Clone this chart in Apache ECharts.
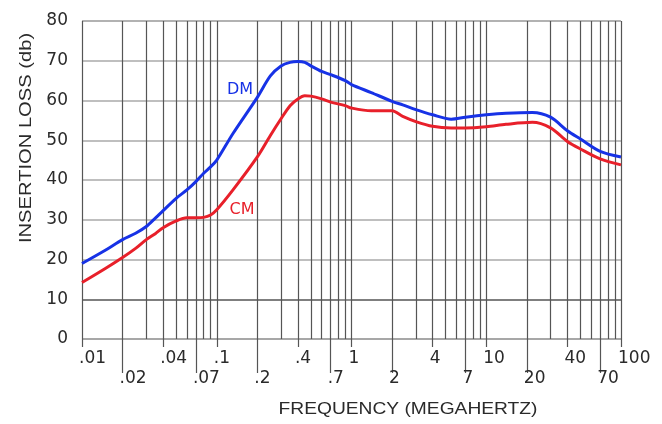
<!DOCTYPE html>
<html>
<head>
<meta charset="utf-8">
<script src="https://cdn.jsdelivr.net/npm/echarts@6/dist/echarts.min.js"></script>
<style>
html,body{margin:0;padding:0;background:#fff;}
#chart{width:662px;height:424px;}
</style>
</head>
<body>
<div id="chart"></div>
<script>
// ---- data (frequency in MHz, insertion loss in dB) ----
var freqs = [0.01, 0.015, 0.02, 0.025, 0.03, 0.035, 0.04, 0.05, 0.06, 0.07, 0.08, 0.09, 0.1, 0.132, 0.2, 0.25, 0.3, 0.35, 0.4, 0.45, 0.5, 0.6, 0.7, 0.9, 1, 1.4, 2, 2.4, 3, 4, 5.5, 7, 10, 14, 22, 30, 40, 50, 70, 100];
var dmLoss = [19, 22.4, 25, 26.6, 28.3, 30.4, 32.3, 35.4, 37.5, 39.6, 41.7, 43.3, 45, 51.7, 60.8, 66.2, 68.7, 69.6, 69.8, 69.6, 68.7, 67.3, 66.5, 65, 64, 62, 59.8, 58.9, 57.7, 56.4, 55.3, 55.8, 56.4, 56.8, 57, 55.8, 52.4, 50.3, 47.2, 45.8];
var cmLoss = [14.2, 17.8, 20.5, 22.8, 25, 26.5, 28, 29.7, 30.5, 30.5, 30.6, 31.2, 32.5, 37.5, 45.8, 51.2, 55.4, 58.7, 60.4, 61.2, 61.1, 60.4, 59.6, 58.7, 58.1, 57.4, 57.4, 56, 54.7, 53.5, 53.1, 53.1, 53.4, 54, 54.5, 53.1, 49.7, 47.8, 45.3, 43.8];
var labelsTop = [0.01, 0.04, 0.1, 0.4, 1, 4, 10, 40, 100];
var labelsBottom = [0.02, 0.07, 0.2, 0.7, 2, 7, 20, 70];
var gridFreqs = [];
[0.01, 0.1, 1, 10].forEach(function (d) { for (var k = 1; k <= 9; k++) gridFreqs.push(+(d * k).toPrecision(3)); });
gridFreqs.push(100);
var yTicks = [0, 10, 20, 30, 40, 50, 60, 70, 80];
var dmName = 'DM', cmName = 'CM';
var dmLabelAt = [0.149, 62.7], cmLabelAt = [0.154, 32.5];

// ---- helpers ----
function lg(v) { return Math.log10(v); }
function fmtFreq(v) {
  var f = Math.pow(10, v);
  var s = String(+f.toPrecision(2));
  if (s.indexOf('0.') === 0) s = s.substring(1);
  return s;
}
var labelFont = { fontFamily: 'DejaVu Sans', fontSize: 17, color: '#2a2a2a' };

var chart = echarts.init(document.getElementById('chart'));
var baseX = { type: 'value', min: -2, max: 2, position: 'bottom', splitLine: { show: false }, axisLine: { show: false } };

chart.setOption({
  animation: false,
  grid: { left: 82, right: 41, top: 21, bottom: 85 },
  xAxis: [
    Object.assign({}, baseX, {
      axisTick: { show: true, length: 8, customValues: labelsTop.map(lg), lineStyle: { color: '#555', width: 1.2 } },
      axisLabel: Object.assign({ customValues: labelsTop.map(lg), formatter: fmtFreq, margin: 11, align: 'left', padding: [0, 0, 0, -3] }, labelFont)
    }),
    Object.assign({}, baseX, {
      axisTick: { show: true, length: 34, customValues: labelsBottom.map(lg), lineStyle: { color: '#555', width: 1.2 } },
      axisLabel: Object.assign({ customValues: labelsBottom.map(lg), formatter: fmtFreq, margin: 31, align: 'left', padding: [0, 0, 0, -3] }, labelFont)
    }),
    Object.assign({}, baseX, {
      axisTick: { show: true, inside: true, length: 318, customValues: gridFreqs.map(lg), lineStyle: { color: '#555', width: 1.2 } },
      axisLabel: { show: false }
    })
  ],
  yAxis: {
    type: 'value', min: 0, max: 80, interval: 10,
    axisLine: { show: false },
    axisTick: { show: true, length: 12, lineStyle: { color: '#999', width: 1.5 } },
    axisLabel: Object.assign({ margin: 14, verticalAlign: 'middle', padding: [0, 0, 10, 0] }, labelFont),
    splitLine: { show: true, lineStyle: { width: 1.5, color: ['#8a8a8a', '#555', '#aaa', '#aaa', '#aaa', '#aaa', '#aaa', '#aaa', '#999'] } }
  },
  series: [
    {
      name: dmName, type: 'line', xAxisIndex: 0, smooth: 0.3, symbol: 'none',
      lineStyle: { color: '#1732e6', width: 3 },
      data: freqs.map(function (f, i) { return [lg(f), dmLoss[i]]; }),
      markPoint: {
        symbol: 'circle', symbolSize: 0, silent: true,
        label: { show: true, position: 'inside', formatter: dmName, color: '#1732e6', fontFamily: 'DejaVu Sans', fontSize: 16 },
        data: [{ coord: [lg(dmLabelAt[0]), dmLabelAt[1]] }]
      }
    },
    {
      name: cmName, type: 'line', xAxisIndex: 0, smooth: 0.3, symbol: 'none',
      lineStyle: { color: '#e8202a', width: 3 },
      data: freqs.map(function (f, i) { return [lg(f), cmLoss[i]]; }),
      markPoint: {
        symbol: 'circle', symbolSize: 0, silent: true,
        label: { show: true, position: 'inside', formatter: cmName, color: '#e8202a', fontFamily: 'DejaVu Sans', fontSize: 16 },
        data: [{ coord: [lg(cmLabelAt[0]), cmLabelAt[1]] }]
      }
    }
  ],
  graphic: [
    { type: 'text', x: 27, y: 138, rotation: Math.PI / 2, scaleX: 1.26,
      style: { text: 'INSERTION LOSS (db)', fontFamily: 'Liberation Sans', fontSize: 16, fill: '#2a2a2a', textAlign: 'center', textVerticalAlign: 'middle' } },
    { type: 'text', x: 408, y: 410, scaleX: 1.2,
      style: { text: 'FREQUENCY (MEGAHERTZ)', fontFamily: 'Liberation Sans', fontSize: 16, fill: '#2a2a2a', textAlign: 'center', textVerticalAlign: 'middle' } }
  ]
});
</script>
</body>
</html>
